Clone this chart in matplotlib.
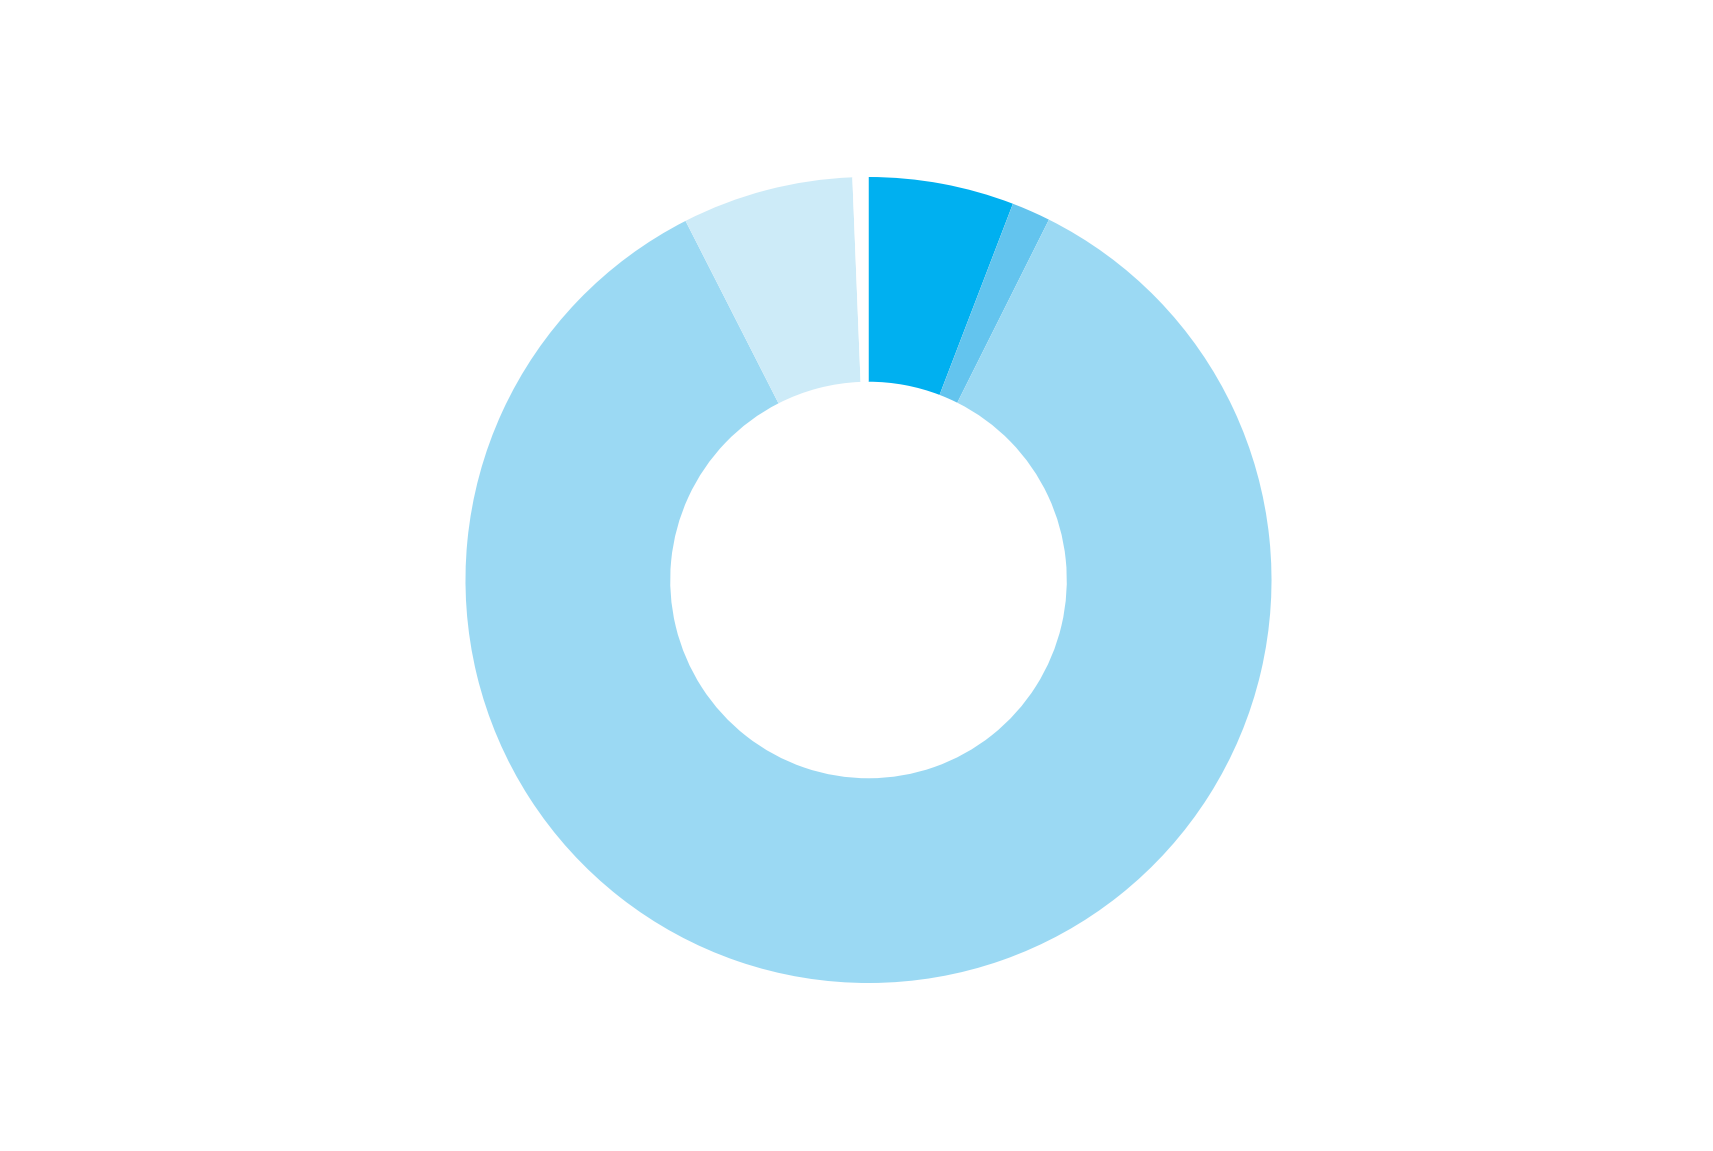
import matplotlib
matplotlib.use("Agg")
import matplotlib.pyplot as plt

# slice sizes (degrees of the ring), clockwise from 12 o'clock
labels = ["A", "B", "C", "D", "gap"]
values = [21.0, 5.6, 306.4, 24.7, 2.3]
colors = ["#00B0F0", "#63C4EE", "#9BD9F3", "#CDEBF8", "#FFFFFF"]

W, H = 1713, 1151
cx, cy, r = 868.5, 580.0, 403.0  # pixel centre and outer radius

fig = plt.figure(figsize=(W / 100, H / 100), dpi=100)
ax = fig.add_axes([0, 0, 1, 1])
ax.pie(values, colors=colors, startangle=90, counterclock=False,
       wedgeprops=dict(width=0.508, linewidth=0, antialiased=True))
ax.set_aspect("auto")
ax.set_xlim(-cx / r, (W - cx) / r)
ax.set_ylim(-(H - cy) / r, cy / r)
ax.axis("off")
fig.savefig("out.png", dpi=100, facecolor="white")
